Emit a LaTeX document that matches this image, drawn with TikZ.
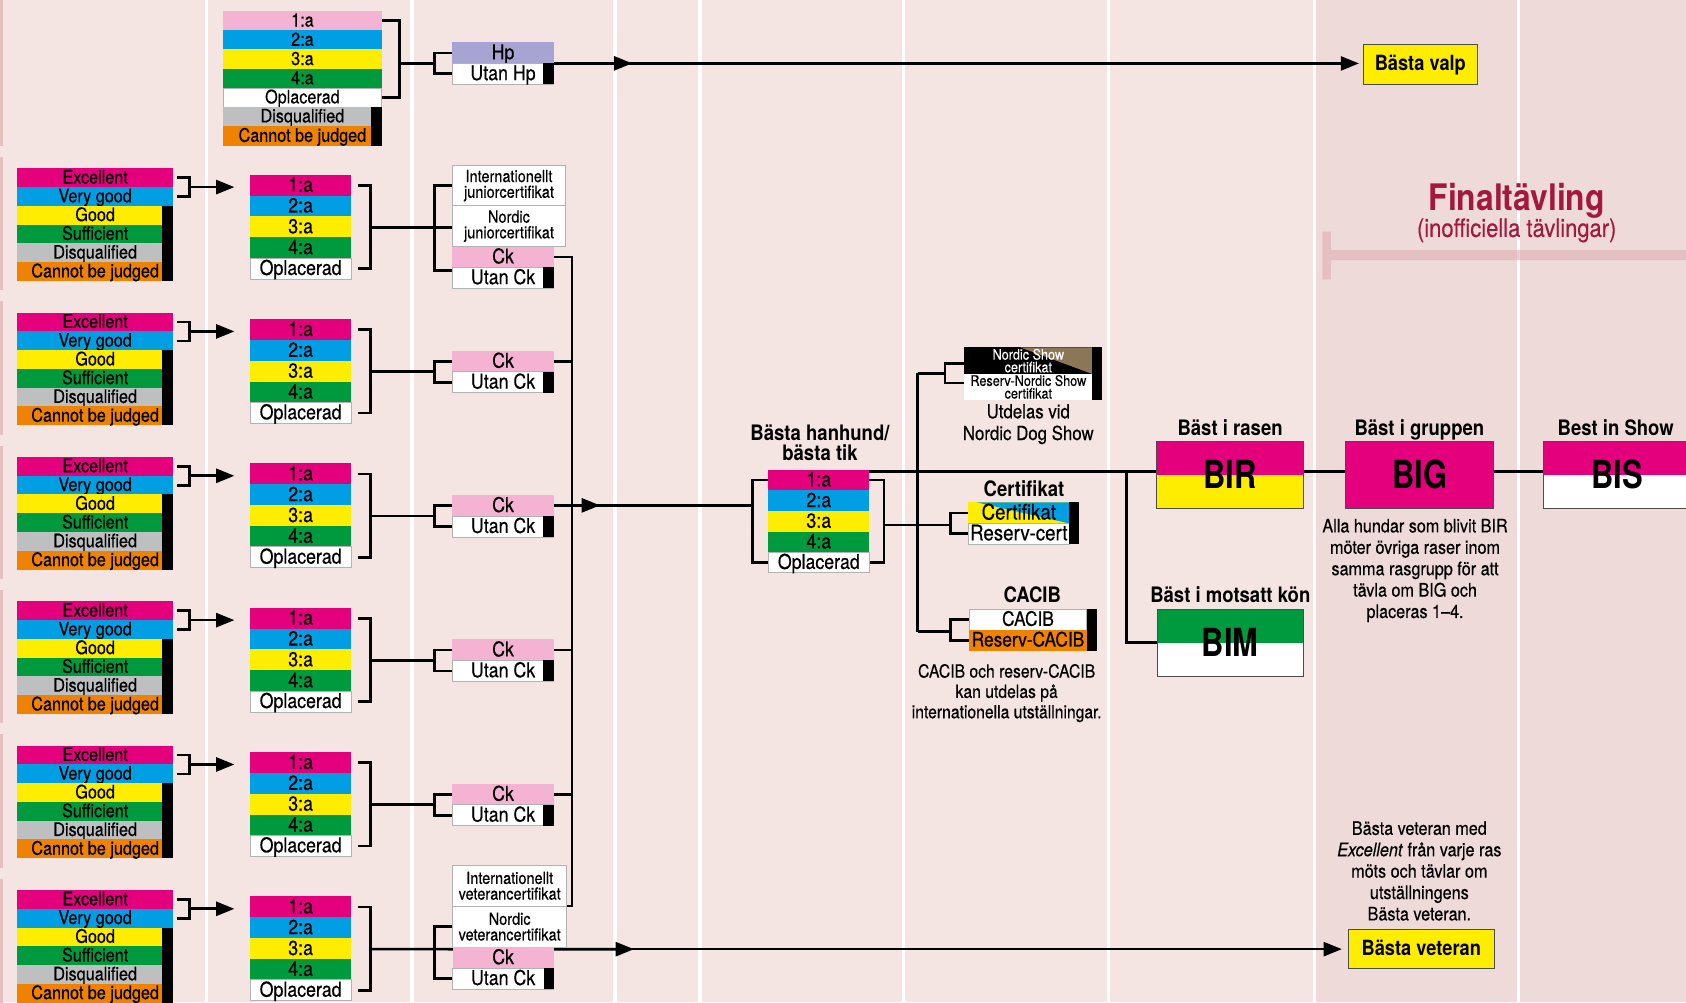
\documentclass[tikz,border=0pt]{standalone}
\usepackage{fontspec}
\setmainfont{TeX Gyre Heros}[FakeStretch=0.87, UprightFeatures={FakeBold=0.4}, ItalicFeatures={FakeBold=0.4}]
\newfontfamily\bigfam{TeX Gyre Heros}[FakeStretch=0.8]
\usetikzlibrary{arrows.meta}
\definecolor{bg}{HTML}{F4E4E2}
\definecolor{bgdark}{HTML}{EFDADA}
\definecolor{cmag}{HTML}{E4007C}
\definecolor{ccyan}{HTML}{009FE3}
\definecolor{cyel}{HTML}{FFED00}
\definecolor{cgreen}{HTML}{009A3E}
\definecolor{cgrey}{HTML}{BDBFC1}
\definecolor{corange}{HTML}{EF8200}
\definecolor{cpink}{HTML}{F4B3D3}
\definecolor{clav}{HTML}{A7A3D2}
\definecolor{cred}{HTML}{A3193E}
\definecolor{cbar}{HTML}{DDAFB4}
\definecolor{cbrown}{HTML}{8B7756}
\definecolor{cedge}{HTML}{E6C0C1}
\pgfdeclarelayer{back}
\pgfdeclarelayer{lines}
\pgfsetlayers{back,lines,main}
\tikzset{
 ln/.style={line width=2.5pt, draw=black},
 arr/.style={-{Triangle[length=17pt,width=13pt]}},
 box/.style={inner sep=0pt, outer sep=0pt, anchor=north west},
 wbox/.style={fill=white, draw=black!30, line width=0.8pt},
 fA/.style={font=\fontsize{17.3}{18}\selectfont, text height=12.5pt, text depth=1.7pt},
 fB/.style={font=\fontsize{19}{20}\selectfont, text height=13.7pt, text depth=1.9pt},
 fCe/.style={font=\fontsize{20}{20}\selectfont, text height=14.4pt, text depth=2pt},
 fCa/.style={font=\fontsize{18.5}{19}\selectfont, text height=13.3pt, text depth=1.85pt},
 fC/.style={font=\fontsize{15.5}{14.6}\selectfont},
 fN/.style={font=\fontsize{17.3}{19.9}\selectfont},
 fNS/.style={font=\fontsize{13.5}{11.8}\selectfont},
 fT/.style={font=\bfseries\fontsize{19.8}{18.3}\selectfont},
 fTl/.style={font=\bfseries\fontsize{19.8}{18.3}\selectfont, text height=14.3pt, text depth=2pt, inner sep=0pt},
 fV/.style={font=\bfseries\fontsize{19.5}{20}\selectfont, text height=14pt, text depth=2pt},
 bigbox/.style={box, font=\bigfam\bfseries\fontsize{36}{36}\selectfont, draw=black!70, line width=0.8pt, text height=25.9pt, text depth=0pt},
}
\begin{document}
\begin{tikzpicture}[x=1pt,y=-1pt]
\useasboundingbox (0,0) rectangle (1568,932);
\begin{pgfonlayer}{back}
 \fill[bg] (0,0) rectangle (1568,932);
 \fill[bgdark] (1222.5,0) rectangle (1568,932);
 \foreach \x in {192,383,572,651,840,1031,1222.5,1412}
   \fill[white] ({\x-1.6},0) rectangle ({\x+1.6},932);
 \fill[cedge] (0,0) rectangle (3,136);
 \foreach \k in {0,...,5}
   \fill[cedge] (0,{146+134.24*\k}) rectangle (3,{270+134.24*\k});
 \fill[cbar,opacity=0.6] (1229.8,232.5) rectangle (1568,241.8) (1229.8,215.4) rectangle (1237.7,259.8);
\end{pgfonlayer}

% ---------- global coordinates ----------
\coordinate (colb) at (532,842.6);
\coordinate (colm) at (532,470);
\coordinate (tipm) at (558,470);
\coordinate (hbl) at (699.7,470);
\coordinate (tipv1) at (588,58.9);
\coordinate (tipv2) at (589.6,882.74);

% ---------- puppy group ----------
\foreach \lab/\col [count=\i from 0] in {1:a/cpink,2:a/ccyan,3:a/cyel,4:a/cgreen}
  \node[box,fA,fill=\col,minimum width=147.5pt,minimum height=18.1pt] (t\i) at (207.5,{10.2+17.9*\i}) {\lab\hspace{10pt}};
\node[box,fA,wbox,minimum width=147.5pt,minimum height=17.9pt] (t4) at (207.5,81.8) {Oplacerad\hspace{10pt}};
\node[box,fA,fill=cgrey,minimum width=147.5pt,minimum height=18.1pt] (t5) at (207.5,99.4) {Disqualified\hspace{10pt}};
\node[box,fA,fill=corange,minimum width=147.5pt,minimum height=18.1pt] (t6) at (207.5,117.4) {Cannot be judged\hspace{10pt}};
\fill (345,99.4) rectangle (355,135.5);
\node[box,fB,fill=clav,minimum width=94.4pt,minimum height=19.6pt] (hp) at (420.6,39.4) {Hp};
\node[box,fB,wbox,minimum width=94.4pt,minimum height=19.5pt] (uhp) at (420.6,58.9) {Utan Hp\hspace{5pt}};
\fill (505.4,58.9) rectangle (515,78.4);
\coordinate (tb) at (371.3,58.9);
\coordinate (hpb) at (404,58.9);
\node[box,fV,fill=cyel,draw=black!70,line width=0.8pt,minimum width=106pt,minimum height=36.9pt] (bv) at (1267.9,41.2) {Bästa valp};
\begin{pgfonlayer}{lines}
 \draw[ln] (t0.east) -| (tb) |- (t4.east);
 \draw[ln] (tb) -- (hpb);
 \draw[ln] (hp.west) -| (hpb) |- (uhp.west);
 \draw[ln,arr,shorten >=4pt] (hp.south east) -- (hp.south east -| bv.west);
 \draw[ln,arr] (hp.south east) -- (tipv1);
\end{pgfonlayer}

% ---------- six class groups ----------
\foreach \k in {0,...,5}{
  \pgfmathsetmacro\yz{156.5+134.24*\k}
  \foreach \lab/\col [count=\i from 0] in {Excellent/cmag,Very good/ccyan,Good/cyel,Sufficient/cgreen,Disqualified/cgrey,Cannot be judged/corange}
    \node[box,fA,fill=\col,minimum width=145pt,minimum height=17.6pt] (q\k-\i) at (16,{\yz+17.45*\i}) {\lab\hspace{10pt}};
  \fill (151,{\yz+34.9}) rectangle (161,{\yz+104.7});
  \foreach \lab/\col [count=\i from 0] in {1:a/cmag,2:a/ccyan,3:a/cyel,4:a/cgreen}
    \node[box,fB,fill=\col,minimum width=94.2pt,minimum height=19.6pt] (p\k-\i) at (232.5,{\yz+6+19.4*\i}) {\lab};
  \node[box,fB,wbox,minimum width=94.2pt,minimum height=19.4pt] (p\k-4) at (232.5,{\yz+83.6}) {Oplacerad};
  \coordinate (qb\k) at (176.5,{\yz+17.5});
  \coordinate (qt\k) at (218,{\yz+17.5});
  \coordinate (pb\k) at (344.5,{\yz+55});
  \begin{pgfonlayer}{lines}
    \draw[ln] ([xshift=3.5pt]q\k-0.east) -| (qb\k) |- ([xshift=3.5pt]q\k-1.east);
    \draw[ln,arr] (qb\k) -- (qt\k);
    \draw[ln] ([xshift=6pt]p\k-0.east) -| (pb\k) |- ([xshift=6pt]p\k-4.east);
  \end{pgfonlayer}
}

% ---------- Ck for groups 2-5 ----------
\foreach \k in {1,...,4}{
  \pgfmathsetmacro\yz{156.5+134.24*\k}
  \node[box,fB,fill=cpink,minimum width=94.3pt,minimum height=19.7pt] (ck\k) at (420.7,{\yz+35.5}) {Ck};
  \node[box,fB,wbox,minimum width=94.3pt,minimum height=19.5pt] (uck\k) at (420.7,{\yz+55}) {Utan Ck};
  \fill (505.4,{\yz+55}) rectangle (515,{\yz+74.5});
  \coordinate (sb\k) at (404,{\yz+55});
  \begin{pgfonlayer}{lines}
    \draw[ln] (pb\k) -- (sb\k);
    \draw[ln] (ck\k.west) -| (sb\k) |- (uck\k.west);
    \draw[ln] (ck\k.east) -- (ck\k.east -| colb);
  \end{pgfonlayer}
}

% ---------- junior ----------
\node[box,fC,wbox,align=center,minimum width=105.3pt,minimum height=37.3pt] (ij) at (420.7,154) {Internationellt\\juniorcertifikat};
\node[box,fC,wbox,align=center,minimum width=105.3pt,minimum height=38.1pt] (nj) at (420.7,191.3) {Nordic\\juniorcertifikat};
\node[box,fB,fill=cpink,minimum width=94.3pt,minimum height=19.4pt] (ck0) at (420.7,229.4) {Ck};
\node[box,fB,wbox,minimum width=94.3pt,minimum height=19.6pt] (uck0) at (420.7,248.6) {Utan Ck};
\fill (505.4,248.6) rectangle (515,268.2);
\coordinate (sb0) at (404,211.5);

% ---------- veteran ----------
\node[box,fC,wbox,align=center,minimum width=106pt,minimum height=37.6pt] (iv) at (421,805) {Internationellt\\veterancertifikat};
\node[box,fC,wbox,align=center,minimum width=106pt,minimum height=38.4pt] (nv) at (421,842.6) {Nordic\\veterancertifikat};
\node[box,fB,fill=cpink,minimum width=93.8pt,minimum height=19.6pt] (ck5) at (421,881) {Ck};
\node[box,fB,wbox,minimum width=93.8pt,minimum height=19.3pt] (uck5) at (421,900.5) {Utan Ck};
\fill (505.7,900.5) rectangle (515,919.8);
\coordinate (sb5) at (404,882.74);
\node[box,fV,fill=cyel,draw=black!70,line width=0.8pt,minimum width=135.6pt,minimum height=37pt] (bvet) at (1254,864) {Bästa veteran};
\node[fN,align=center] (vetnote) at (1320,810) {Bästa veteran med\\\textit{Excellent} från varje ras\\möts och tävlar om\\utställningens\\Bästa veteran.};

\begin{pgfonlayer}{lines}
 \draw[ln] (pb0) -- (pb0 -| nj.west);
 \draw[ln] (ij.west) -| (sb0) |- ([yshift=7pt]uck0.west);
 \draw[ln] (ck0.east) -| (colb) -- (iv.south east);
 \draw[ln] (nv.west) -| (sb5) |- (uck5.west);
 \draw[ln,arr,shorten >=6pt] (pb5) -- (pb5 -| bvet.west);
 \draw[ln,arr] (pb5) -- (tipv2);
 \draw[ln] (colm) -- (hbl);
 \draw[ln,arr] (colm) -- (tipm);
\end{pgfonlayer}

% ---------- best male / female ----------
\node[fT,align=center] (htitle) at (762.6,411.5) {Bästa hanhund/\\bästa tik};
\foreach \lab/\col [count=\i from 0] in {1:a/cmag,2:a/ccyan,3:a/cyel,4:a/cgreen}
  \node[box,fB,fill=\col,minimum width=94pt,minimum height=19.4pt] (h\i) at (714.5,{436.8+19.2*\i}) {\lab};
\node[box,fB,wbox,minimum width=94pt,minimum height=19.2pt] (h4) at (714.5,513.6) {Oplacerad};
\coordinate (hbr) at (822,488.3);
\coordinate (best) at (808.5,438.3);
\coordinate (vt) at (853.5,347.2);
\coordinate (vb) at (853.5,587.5);
\coordinate (nsb) at (878.9,347.2);
\coordinate (cb) at (884,488.3);
\coordinate (cab) at (884,587.5);
\coordinate (brj) at (1047.8,438.3);

% Nordic show certificate
\node[box,fill=black,minimum width=119.1pt,minimum height=24.8pt,path picture={\fill[cbrown] ([xshift=-67.3pt]path picture bounding box.north east) -- (path picture bounding box.north east) -- (path picture bounding box.south east) -- cycle;}] (ns1) at (896.8,323) {};
\node[box,fill=white,minimum width=119.1pt,minimum height=24.4pt] (ns2) at (896.8,347.6) {};
\fill (1015.9,323) rectangle (1025,372);
\node[fNS,text=white,align=center,inner sep=0pt] (ns1t) at (ns1.center) {Nordic Show\\certifikat};
\node[fNS,align=center,inner sep=0pt] (ns2t) at (ns2.center) {Reserv-Nordic Show\\certifikat};
\node[font=\fontsize{18}{20.2}\selectfont,align=center] (utd) at (956.3,394.5) {Utdelas vid\\Nordic Dog Show};

% Certifikat
\node[fTl] (cetitle) at (952.3,455.5) {Certifikat};
\node[box,fCe,fill=cyel,minimum width=94pt,minimum height=19.6pt,path picture={\fill[ccyan] ([xshift=8pt]path picture bounding box.north west) -- (path picture bounding box.north east) -- (path picture bounding box.south east) -- cycle;}] (ce1) at (900.5,467.2) {Certifikat};
\node[box,fCe,wbox,minimum width=94pt,minimum height=19.3pt] (ce2) at (900.5,486.7) {Reserv-cert};
\fill (994.5,467.2) rectangle (1003.5,506);

% CACIB
\node[fTl] (catitle) at (960,554) {CACIB};
\node[box,fCa,wbox,minimum width=109.1pt,minimum height=19.2pt] (ca1) at (901.5,566.7) {CACIB};
\node[box,fCa,fill=corange,minimum width=109.1pt,minimum height=19.2pt] (ca2) at (901.5,585.9) {Reserv-CACIB};
\fill (1010.6,566.7) rectangle (1020,605.1);
\node[font=\fontsize{16.8}{18.9}\selectfont,align=center] (cacibnote) at (936.2,644.6) {CACIB och reserv-CACIB\\kan utdelas på\\internationella utställningar.};

% ---------- finals ----------
\node[fTl] (birt) at (1144,398.8) {Bäst i rasen};
\node[bigbox,fill=cmag,minimum width=136.6pt,minimum height=62.6pt,path picture={\fill[cyel] (path picture bounding box.west) rectangle (path picture bounding box.south east);}] (bir) at (1075.8,410.1) {BIR};
\node[fTl] (bigt) at (1320,398.8) {Bäst i gruppen};
\node[bigbox,fill=cmag,minimum width=137.3pt,minimum height=62.6pt] (big) at (1251.7,410.1) {BIG};
\node[fTl] (bist) at (1502.6,398.8) {Best in Show};
\node[bigbox,fill=cmag,minimum width=137pt,minimum height=62.6pt,path picture={\fill[white] (path picture bounding box.west) rectangle (path picture bounding box.south east);}] (bis) at (1435.5,410.1) {BIS};
\node[fTl] (bimt) at (1144.2,554) {Bäst i motsatt kön};
\node[bigbox,fill=cgreen,minimum width=135.8pt,minimum height=62pt,path picture={\fill[white] (path picture bounding box.west) rectangle (path picture bounding box.south east);}] (bim) at (1076.3,566.7) {BIM};
\node[fN,align=center] (bignote) at (1316,530.5) {Alla hundar som blivit BIR\\möter övriga raser inom\\samma rasgrupp för att\\tävla om BIG och\\placeras 1–4.};
\node[font=\bfseries\fontsize{34}{34}\selectfont,text=cred,text height=24.5pt,text depth=3.4pt,inner sep=0pt] (fin) at (1410.5,185) {Finaltävling};
\node[font=\fontsize{23.5}{24}\selectfont,text=cred,text height=17pt,text depth=2.4pt,inner sep=0pt] (finsub) at (1410.5,213) {(inofficiella tävlingar)};

\begin{pgfonlayer}{lines}
 \draw[ln] (h0.west) -| (hbl) |- (h4.west);
 \draw[ln] (h0.east) -| (hbr) |- (h4.east);
 \draw[ln] (best) -- (best -| bir.west);
 \draw[ln] (vt) -- (vb);
 \draw[ln] (vt) -- (nsb);
 \draw[ln] ([yshift=-2.5pt]ns1.west) -| (nsb) |- ([yshift=3.5pt]ns2.west);
 \draw[ln] (hbr) -- (cb);
 \draw[ln] (ce1.west) -| (cb) |- (ce2.west);
 \draw[ln] (vb) -- (cab);
 \draw[ln] (ca1.west) -| (cab) |- (ca2.west);
 \draw[ln] (bir.east |- best) -- (big.west |- best);
 \draw[ln] (big.east |- best) -- (bis.west |- best);
 \draw[ln] (brj) |- (bim.west);
\end{pgfonlayer}
\end{tikzpicture}
\end{document}
